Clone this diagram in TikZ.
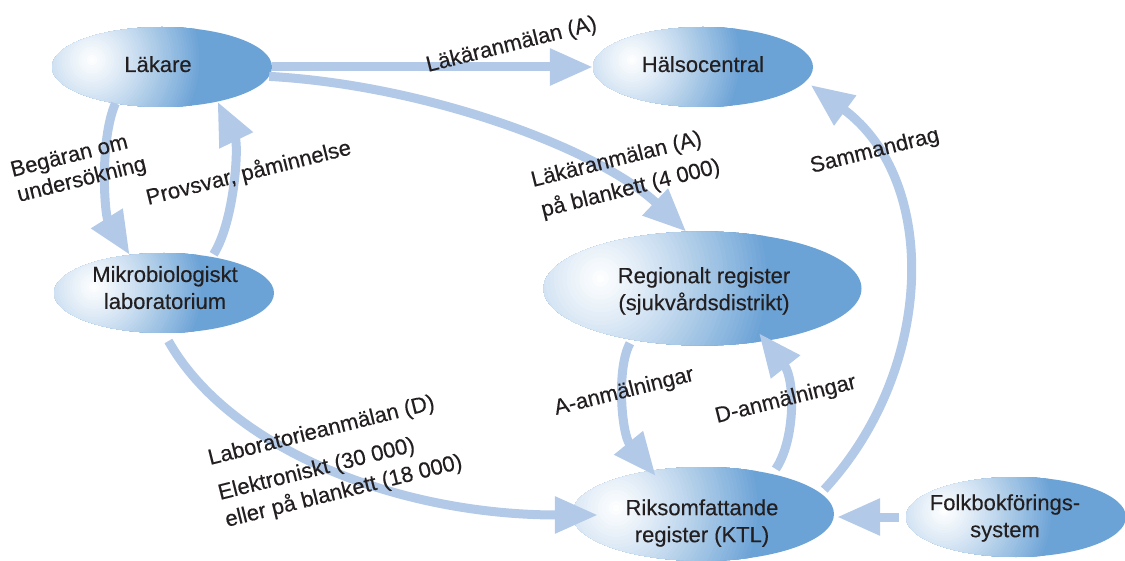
\documentclass[tikz,border=0pt]{standalone}
\usepackage{fontspec}
\setmainfont[FakeBold=0.3]{Liberation Sans}
\usetikzlibrary{shapes.geometric,arrows.meta,calc}
\definecolor{eblue}{RGB}{108,163,214}
\definecolor{acol}{RGB}{178,201,232}
\definecolor{tcol}{RGB}{35,31,32}
\begin{document}
\begin{tikzpicture}[x=1pt,y=-1pt,
  ell/.style n args={5}{ellipse, fill=eblue, inner sep=0pt, minimum width=#1, minimum height=#2,
    path picture={
      \coordinate (hc) at ($(path picture bounding box.west)+(#3,#5)$);
      \foreach \i in {40,39,...,1}{
        \pgfmathsetmacro\p{100*(\i/40)^1.15}
        \fill[eblue!\p!white] (hc) circle ({#4*\i/40});
      }}},
  ntxt/.style={font=\fontsize{22pt}{27pt}\selectfont, text=tcol, align=center, inner sep=0pt},
  lab/.style={font=\fontsize{22pt}{27pt}\selectfont, text=tcol, rotate=14, anchor=base west, inner sep=0pt},
  arr/.style={draw=acol, line width=9pt, -{Triangle[length=43pt,width=35pt]}}]
\fill[white] (0,0) rectangle (1125,561);
\useasboundingbox (0,0) rectangle (1125,561);
% ellipses
\node[ell={220pt}{80pt}{40pt}{110pt}{7pt}] (lak) at (162,67) {};
\node[ell={220pt}{80pt}{39pt}{110pt}{7pt}] (hal) at (703,67) {};
\node[ell={220pt}{80pt}{40pt}{110pt}{6pt}] (mik) at (164,293) {};
\node[ell={318pt}{114pt}{57pt}{170pt}{10pt}] (reg) at (702.5,288.5) {};
\node[ell={262pt}{94pt}{44pt}{145pt}{6pt}] (rik) at (703,514) {};
\node[ell={220pt}{80pt}{38pt}{110pt}{6pt}] (fol) at (1016,517) {};
% connectors
\draw[arr] (lak.east) -- (hal.west);
\draw[arr] (lak.-5) .. controls +(161,9) and +(-85,-81) .. (reg.106);
\draw[arr] (lak.-142) .. controls +(-16,37) and +(-25,-40) .. (mik.132);
\draw[arr, shorten <=3pt] (mik.37) .. controls +(23,-37) and +(21,43.5) .. (lak.-32);
\draw[arr, shorten <=9pt] (mik.south) .. controls +(66,117) and +(-198,0) .. ($(rik.west)+(26,1)$);
\draw[arr, shorten <=4pt, shorten >=-7pt] (reg.-144) .. controls +(-16,29) and +(-29.5,-36) .. (rik.140);
\draw[arr, shorten <=6pt, shorten >=-10pt] (rik.30) .. controls +(23,-34) and +(30,38) .. (reg.-40);
\draw[arr, shorten <=5pt, shorten >=6pt] (rik.10) .. controls +(114,-123) and +(134,99) .. (hal.-8);
\draw[arr, shorten <=7pt, shorten >=3pt] (fol.west) -- (rik.east |- fol.west);
% node texts
\node[ntxt, anchor=base] (lakt) at (158,72) {Läkare};
\node[ntxt, anchor=base] (halt) at (703,72) {Hälsocentral};
\node[ntxt] (mikt) at (165,287.6) {Mikrobiologiskt\\laboratorium};
\node[ntxt] (regt) at (704,291) {Regionalt register\\(sjukvårdsdistrikt)};
\node[ntxt] (rikt) at (702,523) {Riksomfattande\\register (KTL)};
\node[ntxt] (folt) at (1005,518) {Folkbokförings-\\system};
% labels
\node[lab] (l1) at (428,72) {Läkäranmälan (A)};
\node[lab] (l2) at (533,187) {Läkäranmälan (A)};
\node[lab] (l3) at (543,217) {på blankett (4 000)};
\node[lab] (l4) at (12.5,177) {Begäran om};
\node[lab] (l5) at (19,202) {undersökning};
\node[lab] (l6) at (148,205) {Provsvar, påminnelse};
\node[lab] (l7) at (812,173) {Sammandrag};
\node[lab] (l8) at (556,415) {A-anmälningar};
\node[lab] (l9) at (717,423) {D-anmälningar};
\node[lab] (l10) at (210,465) {Laboratorieanmälan (D)};
\node[lab] (l11) at (220,500) {Elektroniskt (30 000)};
\node[lab] (l12) at (227,527) {eller på blankett (18 000)};
\end{tikzpicture}
\end{document}
